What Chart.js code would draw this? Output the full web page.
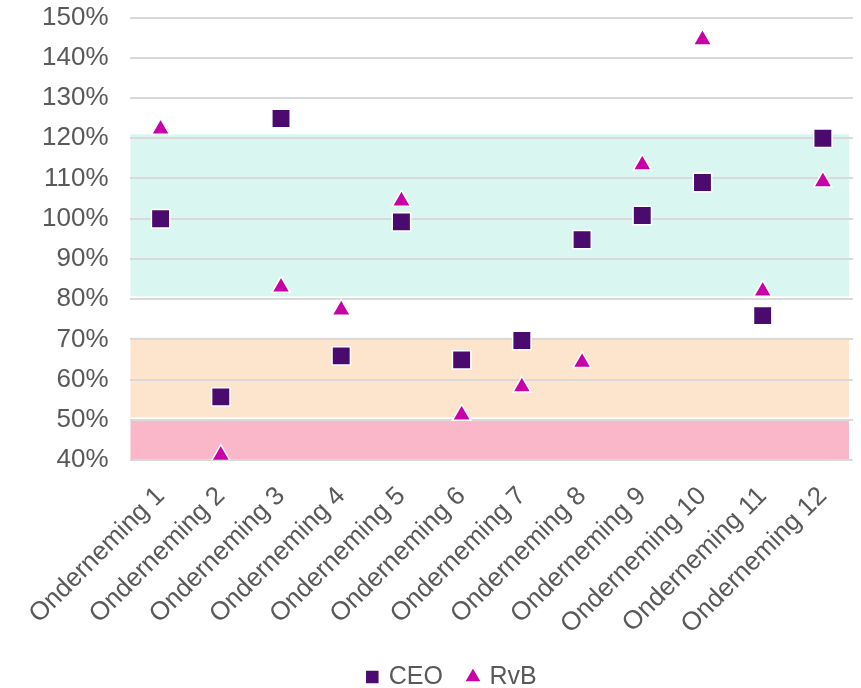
<!DOCTYPE html>
<html>
<head>
<meta charset="utf-8">
<script src="https://cdn.jsdelivr.net/npm/chart.js@4.4.1/dist/chart.umd.min.js"></script>
<style>
  html, body { margin: 0; padding: 0; background: #ffffff; overflow: hidden; }
  #wrap { width: 861px; height: 688px; position: relative; overflow: hidden; }
  #grafico { position: absolute; left: 0; top: -20px; }
</style>
</head>
<body>
<div id="wrap"><canvas id="grafico" width="861" height="708"></canvas></div>
<script>
// categorieën (ondernemingen)
const categories = ['Onderneming 1', 'Onderneming 2', 'Onderneming 3', 'Onderneming 4',
    'Onderneming 5', 'Onderneming 6', 'Onderneming 7', 'Onderneming 8',
    'Onderneming 9', 'Onderneming 10', 'Onderneming 11', 'Onderneming 12'];

// waarden in procenten
const ceoValues = [100, 55.7, 124.9, 65.9, 99.2, 64.9, 69.7, 94.8, 100.8, 109, 75.9, 120];
const rvbValues = [122.3, 41.2, 83, 77.3, 104.4, 51.2, 58.2, 64.3, 113.4, 144.5, 82, 109.2];

// achtergrondzones (onder- en bovengrens, in procenten)
const bandLow = [80.7, 50.6, 40];
const bandHigh = [121, 70.4, 49.8];
const bandColors = ['#d9f6f1', '#fde5cd', '#fab7c9'];

const yMin = 40, yMax = 150, yStep = 10;

// zones tekenen onder het raster
const bandsPlugin = {
    id: 'bands',
    beforeDraw(chart) {
        const { ctx, chartArea, scales } = chart;
        ctx.save();
        bandLow.forEach((low, i) => {
            const top = scales.y.getPixelForValue(bandHigh[i]);
            const bottom = scales.y.getPixelForValue(low);
            ctx.fillStyle = bandColors[i];
            ctx.fillRect(chartArea.left, top, chartArea.right - chartArea.left - 4, bottom - top);
        });
        ctx.restore();
    }
};

// legenda: vaste hoogte, ruimte tussen de items, iets naar rechts
const legendTweak = {
    id: 'legendTweak',
    beforeLayout(chart) {
        const legend = chart.legend;
        if (legend && !legend._tweaked) {
            const fit = legend.fit.bind(legend);
            legend.fit = function () {
                fit();
                this.height = 35;
            };
            legend._tweaked = true;
        }
    },
    afterLayout(chart) {
        chart.legend.top -= 14.5;
        chart.legend.left += 16;
        chart.legend.right += 16;
    }
};

const ctx = document.getElementById('grafico').getContext('2d');
new Chart(ctx, {
    type: 'line',
    data: {
        labels: categories,
        datasets: [
            {
                label: 'CEO',
                data: ceoValues,
                showLine: false,
                pointStyle: 'rect',
                pointRadius: 13,
                pointHoverRadius: 13,
                backgroundColor: '#4b0a6e',
                borderColor: '#4b0a6e',
                pointBackgroundColor: '#4b0a6e',
                pointBorderColor: '#ffffff',
                pointBorderWidth: 1.5
            },
            {
                label: 'RvB',
                data: rvbValues,
                showLine: false,
                pointStyle: 'triangle',
                pointRadius: 10.5,
                pointHoverRadius: 10.5,
                backgroundColor: '#c800a8',
                borderColor: '#c800a8',
                pointBackgroundColor: '#c800a8',
                pointBorderColor: '#ffffff',
                pointBorderWidth: 1.5
            }
        ]
    },
    options: {
        responsive: false,
        animation: false,
        devicePixelRatio: 1,
        layout: { autoPadding: false, padding: { top: 0, left: 20, right: 8, bottom: 0 } },
        plugins: {
            title: { display: false },
            tooltip: { enabled: false },
            legend: {
                display: true,
                position: 'bottom',
                labels: {
                    usePointStyle: true,
                    boxWidth: 8,
                    boxHeight: 14,
                    padding: 26,
                    color: '#595959',
                    font: { family: 'Liberation Sans', size: 25 }
                }
            }
        },
        scales: {
            x: {
                offset: true,
                grid: { display: false },
                border: { display: false },
                ticks: {
                    color: '#595959',
                    font: { family: 'Liberation Sans', size: 26 },
                    minRotation: 45,
                    maxRotation: 45,
                    autoSkip: false,
                    padding: 13
                }
            },
            y: {
                min: yMin,
                max: yMax,
                grid: { color: '#d9d9d9', lineWidth: 2, drawTicks: false },
                border: { display: false },
                ticks: {
                    stepSize: yStep,
                    color: '#595959',
                    padding: 22,
                    font: { family: 'Liberation Sans', size: 26 },
                    callback: v => v + '%'
                }
            }
        }
    },
    plugins: [bandsPlugin, legendTweak]
});
</script>
</body>
</html>
